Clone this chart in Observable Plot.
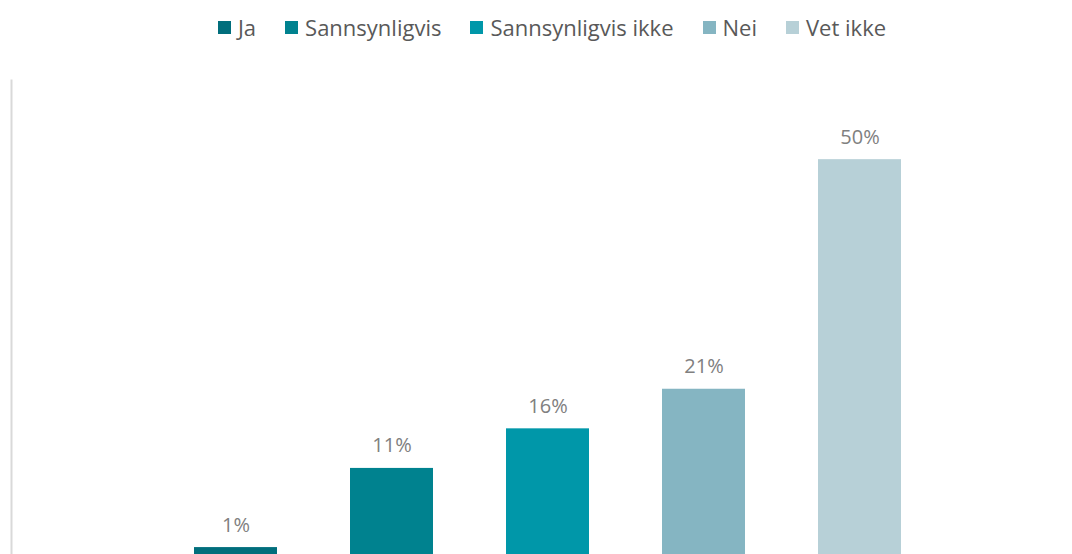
<!DOCTYPE html>
<html>
<head>
<meta charset="utf-8">
<script src="https://cdn.jsdelivr.net/npm/d3@7"></script>
<script src="https://cdn.jsdelivr.net/npm/@observablehq/plot@0.6"></script>
<style>
  html, body { margin: 0; padding: 0; background: #fff; overflow: hidden; }
  #legend {
    height: 54px; display: flex; align-items: center; justify-content: center;
    padding-left: 32px; box-sizing: border-box;
    font-family: "Open Sans", sans-serif; font-size: 22px; color: #595959;
  }
  .item { display: flex; align-items: center; margin-right: 29px; }
  .item:last-child { margin-right: 0; }
  .sw { width: 13px; height: 13px; margin-right: 7px; flex: none; }
  #chart svg { display: block; overflow: hidden; }
</style>
</head>
<body>
<div id="legend"></div>
<div id="chart"></div>
<script>
const categories = ["Ja", "Sannsynligvis", "Sannsynligvis ikke", "Nei", "Vet ikke"];
const values = [1, 11, 16, 21, 50];
const colors = ["#016e7c", "#00828f", "#0097a9", "#85b5c2", "#b7d0d7"];

const data = categories.map((c, i) => ({category: c, value: values[i]}));

const legend = document.getElementById("legend");
categories.forEach((c, i) => {
  const item = document.createElement("div");
  item.className = "item";
  const sw = document.createElement("span");
  sw.className = "sw";
  sw.style.background = colors[i];
  const t = document.createElement("span");
  t.textContent = c;
  item.appendChild(sw);
  item.appendChild(t);
  legend.appendChild(item);
});

const chart = Plot.plot({
  width: 1072,
  height: 501,
  marginTop: 26,
  marginBottom: 0,
  marginLeft: 11,
  marginRight: 133,
  style: {fontFamily: "'Open Sans', sans-serif", background: "#fff"},
  x: {domain: categories, range: [156, 939], paddingInner: 0.47, paddingOuter: 0.235, axis: null},
  y: {domain: [0, 60], axis: null},
  color: {domain: categories, range: colors},
  marks: [
    Plot.frame({anchor: "left", stroke: "#d9d9d9", strokeWidth: 2}),
    Plot.barY(data, {x: "category", y: "value", fill: "category"}),
    Plot.text(data, {
      x: "category", y: "value", text: d => d.value + "%",
      lineAnchor: "bottom", dy: -16, fontSize: 20, fill: "#808080"
    })
  ]
});
document.getElementById("chart").appendChild(chart);
</script>
</body>
</html>
